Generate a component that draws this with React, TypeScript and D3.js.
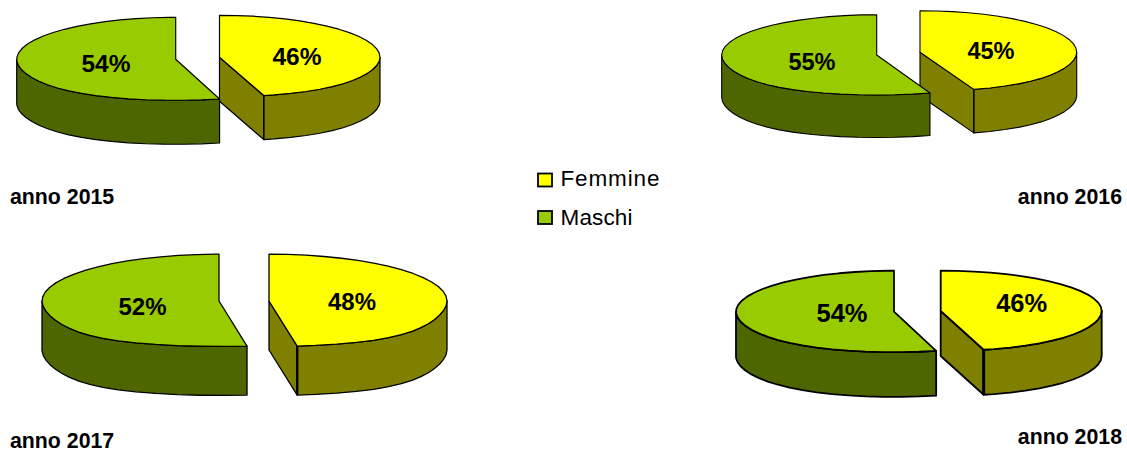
import React from 'react';
import * as d3 from 'd3';

const WIDTH = 1127;
const HEIGHT = 450;

// values
const years = ['2015', '2016', '2017', '2018'];
const femmine = [46, 45, 48, 46];
const maschi = [54, 55, 52, 54];
const seriesNames = ['Femmine', 'Maschi'];

const topColors = ['#ffff00', '#99cc00'];
const sideColors = ['#808000', '#4d6600'];

const color = d3.scaleOrdinal<string, string>().domain(seriesNames).range(topColors);
const sideColor = d3.scaleOrdinal<string, string>().domain(seriesNames).range(sideColors);

// placement of each 3D pie: one wedge per series, pulled apart
const pieLayouts = [
  {
    wedges: [
      { cx: 219.5, cy: 57.3, rx: 160.5, back: 42, front: 39.5, depth: 44, persp: 0.12 },
      { cx: 175.7, cy: 59.3, rx: 159, back: 42, front: 41, depth: 44, persp: 0.12 },
    ],
    labels: [[297, 65], [106, 72]],
    fontSize: 24.5,
    strokeWidth: 1.2,
    seam: 1.2,
    year: { x: 10, y: 204, anchor: 'start' },
  },
  {
    wedges: [
      { cx: 920, cy: 52.3, rx: 156.7, back: 41.6, front: 39, depth: 43.5, persp: 0.13 },
      { cx: 876.7, cy: 55, rx: 155, back: 40.3, front: 40, depth: 42.5, persp: 0.13 },
    ],
    labels: [[991, 59], [812, 70]],
    fontSize: 23.5,
    strokeWidth: 1.1,
    seam: 1.1,
    year: { x: 1122, y: 204, anchor: 'end' },
  },
  {
    wedges: [
      { cx: 269, cy: 301, rx: 178, back: 46.8, front: 45.4, depth: 49, persp: 0.27 },
      { cx: 219, cy: 301, rx: 177, back: 46.8, front: 45.4, depth: 49, persp: 0.27 },
    ],
    labels: [[352, 310], [142.5, 315]],
    fontSize: 24,
    strokeWidth: 1.3,
    seam: 2.4,
    year: { x: 10, y: 448, anchor: 'start' },
  },
  {
    wedges: [
      { cx: 940.7, cy: 311, rx: 161, back: 40.3, front: 40, depth: 45, persp: 0.08 },
      { cx: 894, cy: 311.7, rx: 158, back: 41, front: 40.5, depth: 44.7, persp: 0.08 },
    ],
    labels: [[1021.7, 311.7], [842, 321.7]],
    fontSize: 25.5,
    strokeWidth: 1.8,
    seam: 3,
    year: { x: 1122, y: 444, anchor: 'end' },
  },
];

const legendRows = [
  { boxY: 173.5, textY: 186, textLength: 99 },
  { boxY: 211, textY: 225, textLength: 72 },
];

type Wedge = (typeof pieLayouts)[number]['wedges'][number];

const pie = d3.pie<number>().sort(null).value(d => d);
const line = d3.line();
const STEP = Math.PI / 30;

// angle clockwise from 12 o'clock to a point on the tilted rim
const rim = (w: Wedge, a: number): [number, number] => {
  const c = Math.cos(a);
  const widen = c < 0 ? 1 + w.persp * Math.pow(-c, 3) : 1;
  return [w.cx + w.rx * Math.sin(a) * widen, w.cy - c * (c > 0 ? w.back : w.front)];
};

const arcPoints = (w: Wedge, a0: number, a1: number) =>
  [...d3.range(a0, a1, STEP), a1].map(a => rim(w, a));

const drop = (pts: [number, number][], depth: number) =>
  pts.map(([x, y]) => [x, y + depth] as [number, number]);

const PieSlice = ({ w, d, name, sw, seam }: { w: Wedge; d: d3.PieArcDatum<number>; name: string; sw: number; seam: number }) => {
  const apex: [number, number] = [w.cx, w.cy];
  const top = arcPoints(w, d.startAngle, d.endAngle);

  // outer wall: only the part of the rim that faces the viewer
  const a0 = Math.max(d.startAngle, Math.PI / 2);
  const a1 = Math.min(d.endAngle, (3 * Math.PI) / 2);
  const upper = arcPoints(w, a0, a1);
  const wall = [...upper, ...drop(upper, w.depth).reverse()];

  // cut face shows when the wedge stops before 6 o'clock
  const end = rim(w, d.endAngle);
  const cut = d.endAngle < Math.PI ? [apex, end, ...drop([end, apex], w.depth)] : null;

  const common = { stroke: '#000', strokeWidth: sw, strokeLinejoin: 'round' as const };
  return (
    <g>
      {cut && <path d={line(cut) + 'Z'} fill={sideColor(name)} {...common} />}
      <path d={line(wall) + 'Z'} fill={sideColor(name)} {...common} />
      {cut && <path d={line([end, ...drop([end], w.depth)]) ?? ''} fill="none" stroke="#000" strokeWidth={seam} />}
      <path d={line([apex, ...top]) + 'Z'} fill={color(name)} {...common} />
    </g>
  );
};

export default function App() {
  const font = '"Liberation Sans", Arial, sans-serif';
  return (
    <svg
      width={WIDTH}
      height={HEIGHT}
      style={{ position: 'absolute', left: 0, top: 0, background: '#fff' }}
      fontFamily={font}
    >
      {years.map((year, i) => {
        const layout = pieLayouts[i];
        const arcs = pie([femmine[i], maschi[i]]);
        return (
          <g key={year}>
            {arcs.map((d, j) => (
              <PieSlice key={j} w={layout.wedges[j]} d={d} name={seriesNames[j]} sw={layout.strokeWidth} seam={layout.seam} />
            ))}
            {arcs.map((d, j) => (
              <text
                key={j}
                x={layout.labels[j][0]}
                y={layout.labels[j][1]}
                textAnchor="middle"
                fontWeight="bold"
                fontSize={layout.fontSize}
              >
                {d.data}%
              </text>
            ))}
            <text
              x={layout.year.x}
              y={layout.year.y}
              textAnchor={layout.year.anchor as 'start' | 'end'}
              fontWeight="bold"
              fontSize={21.3}
            >
              anno {year}
            </text>
          </g>
        );
      })}
      {seriesNames.map((name, i) => (
        <g key={name}>
          <rect x={538} y={legendRows[i].boxY} width={14} height={13} fill={color(name)} stroke="#000" strokeWidth={1.8} />
          <text
            x={560.5}
            y={legendRows[i].textY}
            fontSize={22.5}
            textLength={legendRows[i].textLength}
            lengthAdjust="spacing"
          >
            {name}
          </text>
        </g>
      ))}
    </svg>
  );
}
